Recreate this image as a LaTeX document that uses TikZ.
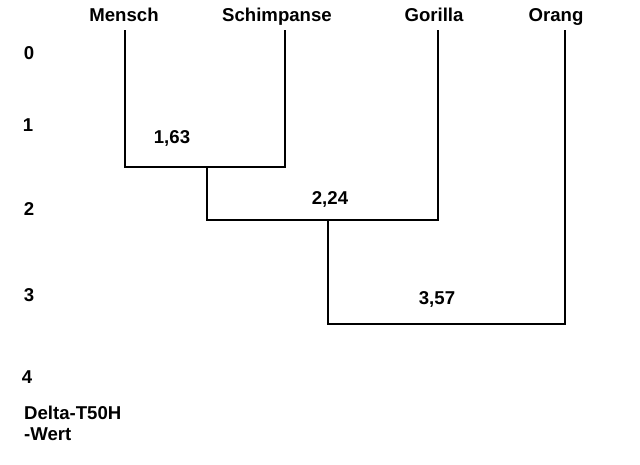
\documentclass[tikz,border=0pt]{standalone}
\usepackage{fontspec}
\setmainfont{Liberation Sans}
\begin{document}
\begin{tikzpicture}[x=1pt,y=-1pt,
  lbl/.style={font=\bfseries\fontsize{18.6}{21}\selectfont, inner sep=0pt, anchor=base},
  branch/.style={line width=1.6pt, line cap=rect}]
\useasboundingbox (0,0) rectangle (640,464);
% taxa labels
\node[lbl] (mensch) at (124,21) {Mensch};
\node[lbl] (schimp) at (277,21) {Schimpanse};
\node[lbl] (gorilla) at (434,21) {Gorilla};
\node[lbl] (orang) at (556,21) {Orang};
% tree coordinates
\coordinate (mt) at (125,31);
\coordinate (mb) at (125,167);
\coordinate (st) at (285,31);
\coordinate (sb) at (285,167);
\coordinate (n1) at (207,167);
\coordinate (n1b) at (207,220);
\coordinate (gt) at (438,31);
\coordinate (gb) at (438,220);
\coordinate (n2) at (328,220);
\coordinate (n2b) at (328,324);
\coordinate (ot) at (565,31);
\coordinate (ob) at (565,324);
\draw[branch] (mt) -- (mb) -- (sb) -- (st);
\draw[branch] (n1) -- (n1b) -- (gb) -- (gt);
\draw[branch] (n2) -- (n2b) -- (ob) -- (ot);
% node values
\node[lbl] (v1) at (172,143) {1,63};
\node[lbl] (v2) at (330,204) {2,24};
\node[lbl] (v3) at (437,304) {3,57};
% axis
\node[lbl] (a0) at (29,59) {0};
\node[lbl] (a1) at (28,131) {1};
\node[lbl] (a2) at (29,215) {2};
\node[lbl] (a3) at (29,301) {3};
\node[lbl] (a4) at (27,383) {4};
\node[lbl, anchor=base west] (axt1) at (24,419) {Delta-T50H};
\node[lbl, anchor=base west] (axt2) at (24,440) {-Wert};
\end{tikzpicture}
\end{document}
